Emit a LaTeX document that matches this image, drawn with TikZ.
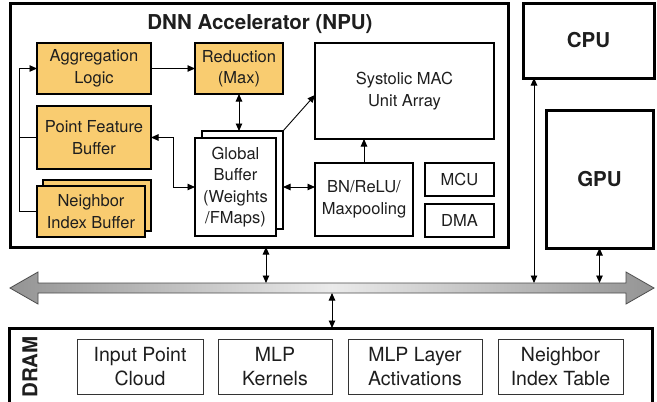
\documentclass[tikz,border=0pt]{standalone}
\usepackage{fontspec}
\setmainfont{TeX Gyre Heros}
\usetikzlibrary{arrows.meta,calc}
\definecolor{boxorange}{RGB}{249,204,112}
\definecolor{txt}{RGB}{30,30,30}
\begin{document}
\begin{tikzpicture}[x=1pt,y=-1pt,
  every node/.style={inner sep=0pt, outer sep=0pt, align=center, text=txt},
  nfont/.style={font=\fontsize{16.5}{21.5}\selectfont},
  dfont/.style={font=\fontsize{19.5}{24.5}\selectfont},
  bfont/.style={font=\fontsize{20.5}{23}\selectfont\bfseries},
  obox/.style={draw=black, line width=1.8pt, fill=boxorange, nfont},
  wbox/.style={draw=black, line width=1.2pt, fill=white, nfont},
  unitbox/.style={draw=black, line width=3pt, fill=white},
  dbox/.style={draw=black!80, line width=1pt, fill=white, dfont},
  conn/.style={line width=0.9pt, -{Triangle[length=7.5pt,width=6.5pt]}},
  biconn/.style={line width=0.9pt, {Triangle[length=7.5pt,width=6.5pt]}-{Triangle[length=7.5pt,width=6.5pt]}},
  plain/.style={line width=0.9pt},
]
\clip (0,0) rectangle (657,402);
\fill[white] (0,0) rectangle (657,402);

% outer units
\node[unitbox, minimum width=498pt, minimum height=244pt] (npu) at (259,125) {};
\node[bfont] (npulbl) at (260,24) {DNN Accelerator (NPU)};
\node[unitbox, bfont, minimum width=131pt, minimum height=75pt] (cpu) at (588.5,40.5) {CPU};
\node[unitbox, bfont, minimum width=107pt, minimum height=138pt] (gpu) at (599.5,179) {GPU};
\node[unitbox, minimum width=643pt, minimum height=92pt] (dram) at (330.5,374) {};
\node[bfont, rotate=90] (dramlbl) at (30,367) {DRAM};

% NPU internals
\node[obox, minimum width=114pt, minimum height=51pt] (agg) at (94,68.5) {Aggregation\\Logic};
\node[obox, minimum width=88pt, minimum height=51pt] (red) at (239,68.5) {Reduction\\(Max)};
\node[obox, minimum width=114pt, minimum height=63pt] (pfb) at (94,137.5) {Point Feature\\Buffer};
\node[obox, minimum width=108pt, minimum height=51pt] (nibb) at (97,205.5) {};
\node[obox, minimum width=108pt, minimum height=51pt] (nib) at (91,211.5) {Neighbor\\Index Buffer};
\node[wbox, minimum width=81pt, minimum height=98pt] (gbb) at (242.5,180) {};
\node[wbox, minimum width=81pt, minimum height=98pt] (gb) at (235.5,187) {Global\\Buffer\\(Weights\\/FMaps)};
\node[wbox, minimum width=179pt, minimum height=96pt] (sys) at (404.5,91) {Systolic MAC\\Unit Array};
\node[wbox, minimum width=98pt, minimum height=73pt] (bn) at (364,199.5) {BN/ReLU/\\Maxpooling};
\node[wbox, minimum width=69pt, minimum height=33pt] (mcu) at (459.5,179.5) {MCU};
\node[wbox, minimum width=69pt, minimum height=33pt] (dma) at (459.5,220.5) {DMA};

% DRAM contents
\node[dbox, minimum width=126pt, minimum height=55pt] (ipc) at (140,366.5) {Input Point\\Cloud};
\node[dbox, minimum width=114pt, minimum height=55pt] (mlpk) at (275,366.5) {MLP\\Kernels};
\node[dbox, minimum width=134pt, minimum height=55pt] (mlpa) at (415,366.5) {MLP Layer\\Activations};
\node[dbox, minimum width=125pt, minimum height=55pt] (nit) at (560.5,366.5) {Neighbor\\Index Table};

% bus
\path[draw=black!70, line width=0.8pt, left color=black!42, right color=black!42, middle color=black!8]
  (10,288) -- (38,272) -- (38,283) -- (626,283) -- (626,272) -- (654,288)
  -- (626,304) -- (626,293) -- (38,293) -- (38,304) -- cycle;
\coordinate (bustop) at (330,283);
\coordinate (busbot) at (330,293);
\coordinate (lbus) at (19,0);

% connectors inside NPU
\draw[conn] (agg.east) -- (red.west);
\draw[conn] (nib.west) -- (nib.west -| lbus) |- (agg.west);
\draw[plain] (pfb.west) -- (pfb.west -| lbus);
\draw[biconn] (pfb.east) -- ++(22,0) |- (gb.west);
\draw[biconn] (red.south) -- (red.south |- gbb.north);
\draw[conn] (gbb.north east) -- ([yshift=-4pt]sys.west);
\draw[biconn] (gb.west -| gbb.east) -- (gb.west -| bn.west);
\draw[conn] (bn.north) -- (bn.north |- sys.south);

% connectors to bus
\draw[biconn] ([xshift=7pt]npu.south) -- ([xshift=7pt]npu.south |- bustop);
\draw[biconn] ([xshift=-54.5pt]cpu.south) -- ([xshift=-54.5pt]cpu.south |- bustop);
\draw[biconn] (gpu.south) -- (gpu.south |- bustop);
\draw[biconn] ([xshift=1.5pt]dram.north |- busbot) -- ([xshift=1.5pt]dram.north);
\end{tikzpicture}
\end{document}
